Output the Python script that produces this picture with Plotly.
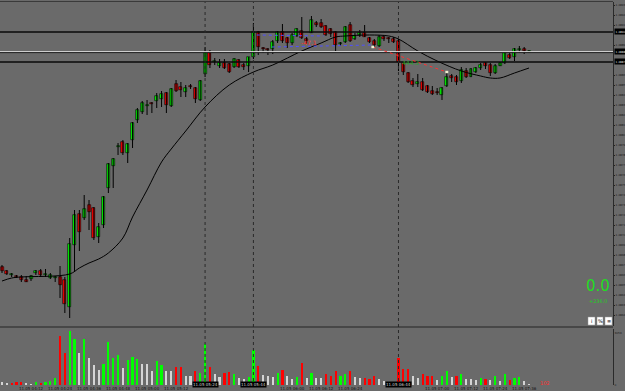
import plotly.graph_objects as go

# ---- data (price levels in points) ----
opens  = [63,59,55,54,53,50,51,57,59,55,52,52,53,50,23,85,116,112,125,122,93,105,142,164,183,188,177,190,
          210,218,224,226,229,231,237,224,246,243,238,244,242,230,256,278,268,264,267,266,263,270,265,264,273,298,281,280,
          281,289,298,292,287,294,299,291,297,307,307,304,301,298,286,288,305,291,295,297,292,289,284,293,291,291,289,267,
          257,249,246,248,244,239,237,235,244,254,253,249,259,253,258,262,267,265,257,264,267,275,273,280,281,278]
highs  = [65,60,57,55,55,54,55,60,61,61,57,54,64,53,92,120,120,135,130,123,107,134,167,172,187,190,187,208,
          222,229,230,228,237,239,238,242,250,248,245,246,243,250,283,280,272,271,271,267,272,271,267,273,307,299,283,282,
          290,299,306,293,297,302,313,293,314,309,311,305,302,299,288,304,308,297,300,305,293,291,295,295,293,293,291,268,
          258,252,256,252,245,244,242,243,258,256,255,263,262,262,263,267,268,267,266,268,278,277,282,284,283,280]
lows   = [57,55,53,52,48,48,49,55,53,53,51,48,32,17,12,58,79,110,100,90,87,102,137,142,175,175,167,182,
          207,216,215,217,222,223,217,223,238,233,233,241,227,229,253,262,265,262,261,257,262,262,260,258,271,275,277,275,
          276,287,287,282,285,293,291,286,297,303,302,294,293,279,284,287,288,290,293,293,287,282,283,289,287,287,259,255,
          247,243,243,239,237,235,235,230,243,248,245,247,252,253,257,260,261,254,256,264,266,271,269,277,276,277]
closes = [59,56,55,53,50,48,54,59,55,55,55,52,45,26,86,115,98,121,118,92,103,133,166,171,183,177,186,207,
          220,227,224,226,234,236,225,241,239,240,242,243,231,249,277,265,268,267,262,258,271,263,263,273,298,283,281,280,
          288,298,289,287,295,301,292,289,310,305,303,295,296,285,286,303,289,294,297,293,288,285,293,291,291,288,268,258,
          248,245,248,240,238,236,237,242,253,252,248,260,253,261,262,265,264,257,264,267,277,272,281,280,279,279]
# candle colour as drawn: 1 = green, 0 = red
up     = [0,0,1,0,0,0,1,1,0,1,1,1,0,0,1,1,0,1,0,0,1,1,1,1,1,0,1,1,
          1,1,1,0,1,1,0,1,0,0,1,0,0,1,1,0,1,1,0,0,1,0,0,1,1,0,0,0,
          1,1,0,0,1,1,0,0,1,0,0,0,0,0,1,1,0,1,1,0,0,0,1,0,0,0,0,0,
          0,0,1,0,0,0,0,1,1,0,0,1,0,1,1,1,0,0,1,1,1,0,1,1,0,1]

volumes = [3,2,2,3,3,2,1,3,2,3,4,7,50,33,55,47,33,47,27,20,15,21,44,27,31,17,25,28,
           26,21,21,14,24,20,14,14,18,18,9,9,14,12,42,18,11,8,12,13,11,7,6,8,36,19,10,9,
           8,12,15,9,6,8,22,7,12,7,7,11,9,14,9,11,14,8,7,7,6,9,6,4,3,3,27,16,
           16,9,7,11,9,9,5,9,14,8,9,11,6,6,5,7,6,5,9,4,11,5,7,8,4,1]
# volume colour: g = green, r = red, w = white
vol_col = list("wwrrrwwgrgggrrggwgwwwgggg" "wgg" "gwwwggwwrrwwrggrwwrrgwwggrww"
               "wgrwwgrwgwwrrrggrwwrrrwwwrrr" "rwwrrrwggwrgwwwgrwgwgrggww")

ma_idx = [0,2,4,14,16,18,20,22,25,27,30,33,35,38,42,47,52,56,62,66,69,71,76,80,82,86,90,95,99,101,103,106,109]
ma_val = [49,52,53,56,62,67,71,77,92,113,140,168,181,199,223,245,258,265,279,287,293,294,295,294,291,279,269,259,254,252,252,257,262]

level_lines = [298, 278, 268]
marked_bars = [42, 52, 82]
marked_text = ["11.05 05:24", "11.05 05:44", "11.05 06:44"]

price_ticks = [325, 315, 305, 285, 255, 245, 235, 225, 215, 205, 195, 185, 175, 165, 155, 145, 135,
               125, 115, 105, 95, 85, 75, 65, 55, 45, 35, 25, 15]
price_text = ["1.4893", "1.4892", "1.4891", "1.4889", "1.4886", "1.4885", "1.4884", "1.4883",
              "1.4882", "1.4881", "1.4880", "1.4879", "1.4878", "1.4877", "1.4876", "1.4875",
              "1.4874", "1.4873", "1.4872", "1.4871", "1.4870", "1.4869", "1.4868", "1.4867",
              "1.4866", "1.4865", "1.4864", "1.4863", "1.4862"]
level_text = ["1.4890", "1.4888", "1.4887"]
time_ticks = [0, 6, 12, 18, 24, 30, 36, 60, 66, 72, 90, 96, 102, 108]
time_text = ["11.05 04:00", "11.05 04:12", "11.05 04:24", "11.05 04:36", "11.05 04:48", "11.05 05:00",
             "11.05 05:12", "11.05 06:00", "11.05 06:12", "11.05 06:24", "11.05 07:00", "11.05 07:12",
             "11.05 07:24", "11.05 07:36"]

# ---- layout constants ----
W, H = 625, 391
BG = "#6a6a6a"
GREEN, RED, WHITE = "#00ff00", "#ff0000", "#d4d4d4"
plot_right = 613 / W
n = len(opens)
x = list(range(n))
r0 = -2 / 4.835
r1 = r0 + 613 / 4.835
AX_FONT = dict(size=2.8, color="#1a1a1a", family="DejaVu Sans")

def py(p):  # pixel row -> paper fraction
    return (H - p) / H

fig = go.Figure()

# wicks
wx, wy = [], []
for i in range(n):
    wx += [i, i, None]
    wy += [lows[i], highs[i], None]
fig.add_trace(go.Scatter(x=wx, y=wy, mode="lines", line=dict(color="#000000", width=1),
                         hoverinfo="skip", showlegend=False))
# bodies
base = [min(o, c) for o, c in zip(opens, closes)]
hgt = [max(abs(c - o), 0.9) for o, c in zip(opens, closes)]
fig.add_trace(go.Bar(x=x, y=hgt, base=base, width=0.62,
                     marker=dict(color=[GREEN if u else RED for u in up],
                                 line=dict(color="#000000", width=0.6)),
                     showlegend=False))
# moving average
fig.add_trace(go.Scatter(x=ma_idx, y=ma_val, mode="lines", line=dict(color="#000000", width=1, shape="spline"),
                         showlegend=False))
# volumes
cmap = {"g": GREEN, "r": RED, "w": WHITE}
fig.add_trace(go.Bar(x=x, y=volumes, width=0.45, xaxis="x2", yaxis="y2",
                     marker=dict(color=[cmap[c] for c in vol_col], line=dict(width=0)),
                     showlegend=False))

shapes = []
# top border
shapes.append(dict(type="line", xref="paper", yref="paper", x0=0, x1=plot_right, y0=py(1.5), y1=py(1.5),
                   line=dict(color="#3a3a3a", width=1)))
# pane separator
shapes.append(dict(type="rect", xref="paper", yref="paper", x0=0, x1=plot_right, y0=py(328), y1=py(326),
                   fillcolor="#474747", line=dict(width=0)))
# level lines
for k, lv in enumerate(level_lines):
    if k == 1:
        shapes.append(dict(type="line", xref="paper", yref="y", x0=0, x1=plot_right, y0=lv - 0.6, y1=lv - 0.6,
                           line=dict(color="#111111", width=1)))
        shapes.append(dict(type="line", xref="paper", yref="y", x0=0, x1=plot_right, y0=lv + 0.4, y1=lv + 0.4,
                           line=dict(color="#d8d8d8", width=1)))
    else:
        shapes.append(dict(type="line", xref="paper", yref="y", x0=0, x1=plot_right, y0=lv, y1=lv,
                           line=dict(color="#0a0a0a", width=1.3)))
# vertical dotted markers
for b in marked_bars:
    shapes.append(dict(type="line", xref="x", yref="paper", x0=b, x1=b, y0=py(387), y1=py(2),
                       line=dict(color="#2a2a2a", width=1, dash="dot")))
# trade lines
shapes.append(dict(type="line", xref="x", yref="y", x0=52.7, x1=66.5, y0=295, y1=294,
                   line=dict(color="#5050ff", width=1, dash="dot")))
shapes.append(dict(type="line", xref="x", yref="y", x0=55.8, x1=76.7, y0=283, y1=285,
                   line=dict(color="#5050ff", width=1, dash="dot")))
shapes.append(dict(type="line", xref="x", yref="y", x0=76.7, x1=92.0, y0=283, y1=258,
                   line=dict(color="#ff3030", width=1, dash="dot")))
for (bx, by) in [(76.7, 283), (92.0, 258)]:
    shapes.append(dict(type="rect", xref="x", yref="y", x0=bx - 0.3, x1=bx + 0.3, y0=by - 1.2, y1=by + 1.2,
                       fillcolor="#f0f0d0", line=dict(width=0)))
# buttons
for (a, b) in [(588, 595), (597, 603), (605, 612)]:
    shapes.append(dict(type="rect", xref="paper", yref="paper", x0=a / W, x1=b / W, y0=py(325), y1=py(317),
                       fillcolor="#ffffff", line=dict(color="#999999", width=0.5)))

ann = []
for lv, t in zip(level_lines, level_text):
    ann.append(dict(xref="paper", yref="y", x=plot_right + 0.001, y=lv, xanchor="left", yanchor="middle",
                    text=t, showarrow=False, bgcolor="#000000",
                    font=dict(size=2.8, color="#dddddd", family="DejaVu Sans"), borderpad=0.5))
ann.append(dict(xref="x", yref="y", x=63.5, y=287, text="-47.1", showarrow=False, xanchor="center",
                font=dict(size=6, color="#ff3030", family="DejaVu Sans")))
ann.append(dict(xref="x", yref="y", x=84.5, y=267, text="444.3", showarrow=False, xanchor="center",
                font=dict(size=6, color="#2aa02a", family="DejaVu Sans")))
ann.append(dict(xref="paper", yref="paper", x=598 / W, y=py(296), text="0.0", showarrow=False,
                xanchor="center", yanchor="bottom", borderpad=0,
                font=dict(size=15, color="#22dd22", family="DejaVu Sans")))
ann.append(dict(xref="paper", yref="paper", x=598 / W, y=py(296.5), text="+236.0", showarrow=False,
                xanchor="center", yanchor="top", borderpad=0,
                font=dict(size=5, color="#22cc22", family="DejaVu Sans")))
for (cx, t) in [(591.5, "i"), (600, "%"), (608.5, "≡")]:
    ann.append(dict(xref="paper", yref="paper", x=cx / W, y=py(321), text=t, showarrow=False,
                    xanchor="center", yanchor="middle",
                    font=dict(size=5, color="#000000", family="DejaVu Sans")))
for b, t in zip(marked_bars, marked_text):
    ann.append(dict(xref="x", yref="paper", x=b, y=py(388.3), text=t, xanchor="center",
                    showarrow=False, bgcolor="#000000", borderpad=0,
                    font=dict(size=4, color="#cccccc", family="DejaVu Sans")))
ann.append(dict(xref="x", yref="y2", x=n + 0.8, y=2.5, text="102", showarrow=False, xanchor="left",
                font=dict(size=5, color="#ff3030", family="DejaVu Sans")))

fig.update_layout(
    width=W, height=H, margin=dict(l=0, r=0, t=0, b=0, autoexpand=False),
    paper_bgcolor=BG, plot_bgcolor=BG, barmode="overlay", bargap=0,
    showlegend=False, shapes=shapes, annotations=ann,
    xaxis=dict(domain=[0, plot_right], range=[r0, r1], showticklabels=False, showgrid=False,
               zeroline=False, ticks="", anchor="y", automargin=False),
    yaxis=dict(domain=[py(326), py(2)], range=[4, 328], side="right", showgrid=False, zeroline=False,
               tickvals=price_ticks, ticktext=price_text, ticks="outside", ticklen=1, tickcolor="#222222",
               tickfont=AX_FONT, automargin=False,
               showline=True, linecolor="#2a2a2a", linewidth=1, anchor="x"),
    xaxis2=dict(domain=[0, plot_right], range=[r0, r1], showgrid=False, zeroline=False, anchor="y2",
                tickvals=time_ticks, ticktext=time_text, ticks="", tickangle=0, automargin=False,
                tickfont=dict(size=4, color="#111111", family="DejaVu Sans"), matches="x"),
    yaxis2=dict(domain=[py(385), py(329)], range=[0, 57], side="right", showgrid=False, zeroline=False,
                tickvals=[0, 53], ticktext=["0", "3056"], ticks="", anchor="x2", automargin=False,
                tickfont=AX_FONT,
                showline=True, linecolor="#2a2a2a", linewidth=1),
)

fig.write_html("out.html")
